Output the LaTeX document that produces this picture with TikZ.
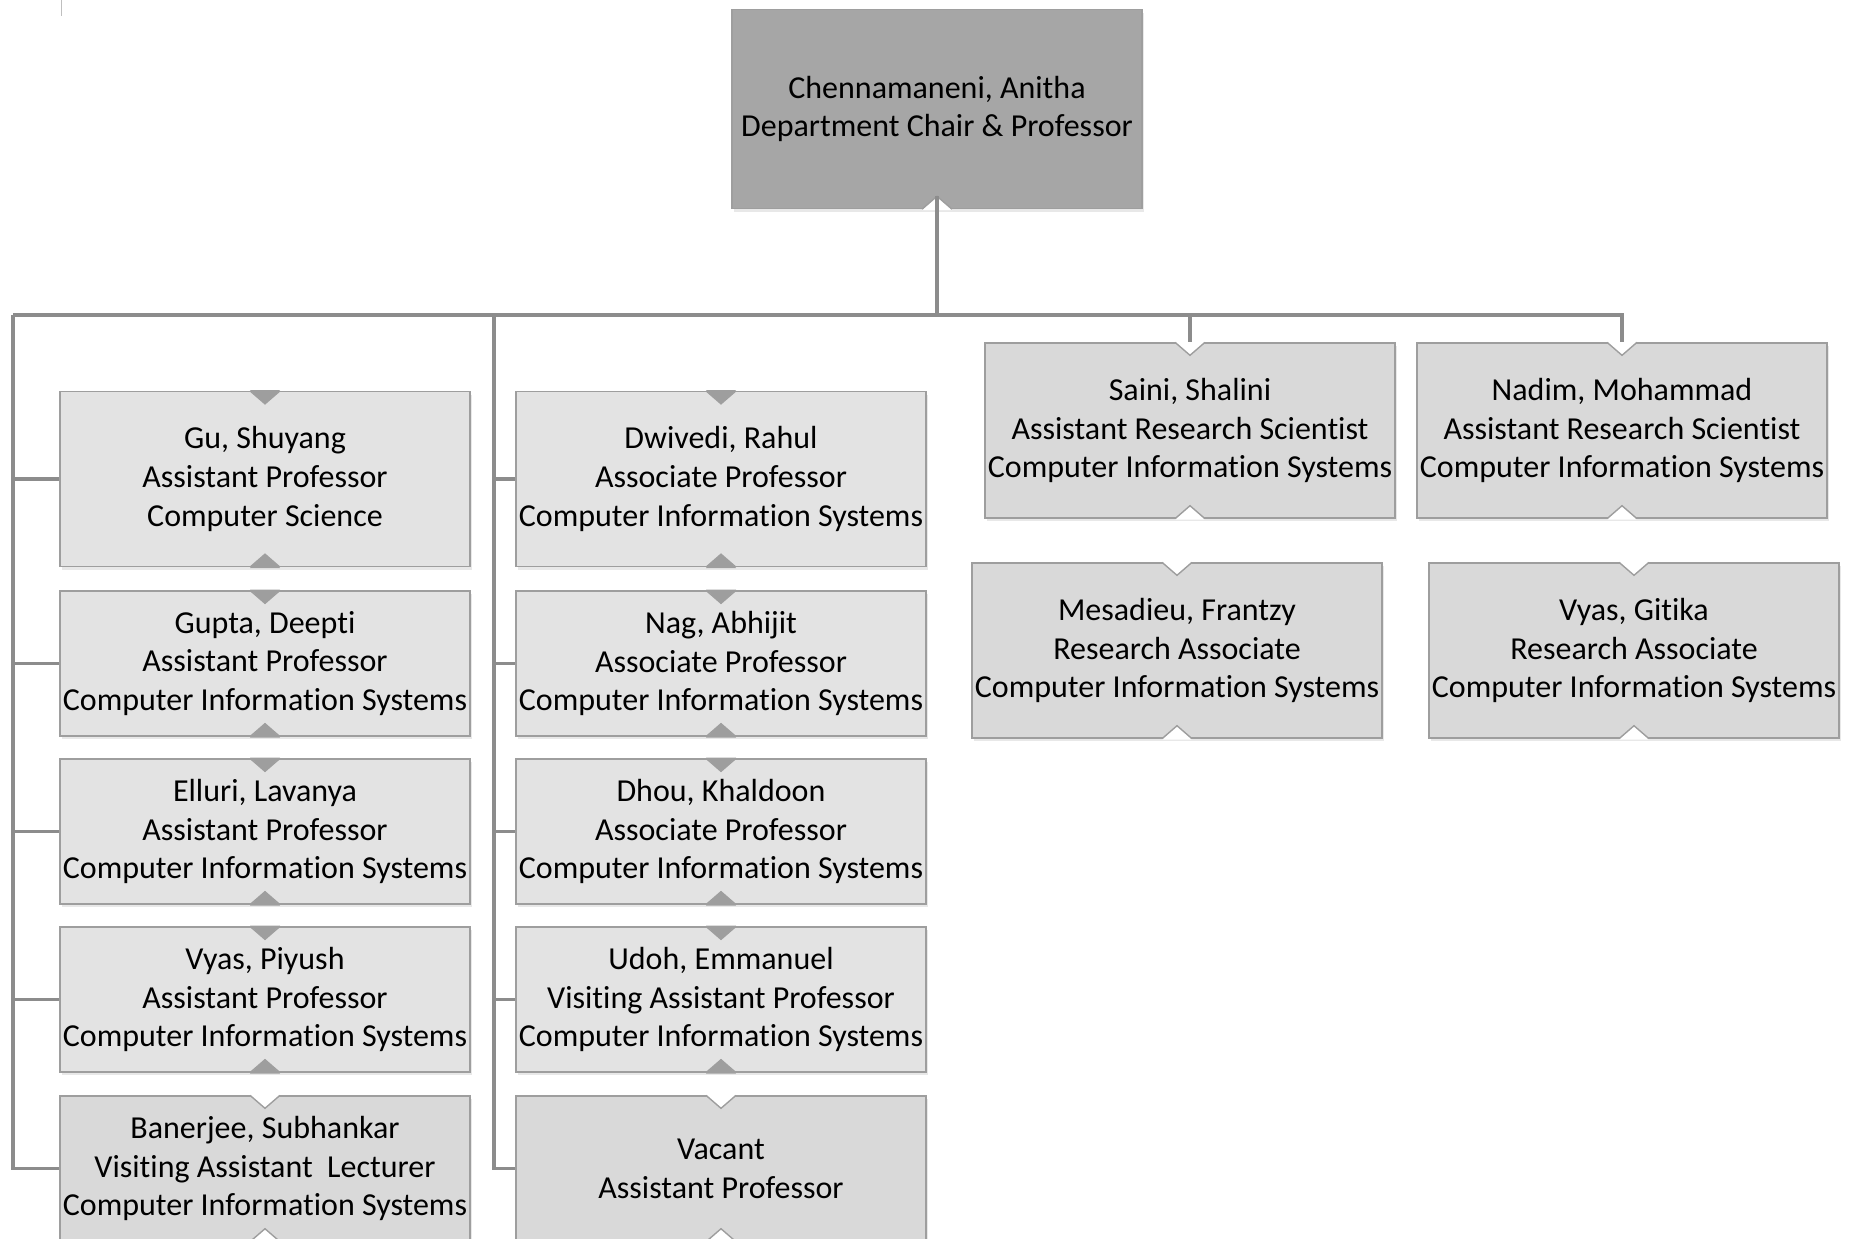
\documentclass[tikz,border=0pt]{standalone}
\usepackage{fontspec}
\setmainfont{Carlito}[Ligatures=NoCommon]
\usetikzlibrary{shadows}
\usepackage{xcolor}

\begin{document}
\begin{tikzpicture}[x=0.5pt, y=-0.5pt,
    staff/.style={draw=black!38, line width=0.7pt, fill=black!11, rectangle, align=center,
      minimum width=205pt, minimum height=72.5pt, inner sep=0pt,
      font=\fontsize{16}{19.4}\selectfont,
      drop shadow={shadow xshift=0.8pt, shadow yshift=-1.5pt, opacity=0.18}},
    staffdark/.style={staff, fill=black!15},
    tallbox/.style={minimum height=87.5pt},
    chair/.style={staff, fill=black!35, minimum height=99.5pt},
    boxline/.style={draw=black!38, line width=0.7pt},
    link/.style={draw=black!45, line width=1.7pt}]
    \useasboundingbox (0,0) rectangle (1858,1238);
    \clip (0,0) rectangle (1858,1238);
    \draw[black!25, line width=0.8pt] (61.5,0) -- (61.5,16);

    % Department chair
    \node[chair] (chair) at (937,109) {Chennamaneni, Anitha\\Department Chair \& Professor};

    % First column
    \node[staff, tallbox] (gu) at (265,479) {Gu, Shuyang\\Assistant Professor\\Computer Science};
    \node[staff] (gupta) at (265,663.5) {Gupta, Deepti\\Assistant Professor\\Computer Information Systems};
    \node[staff] (elluri) at (265,831.5) {Elluri, Lavanya\\Assistant Professor\\Computer Information Systems};
    \node[staff] (vyasp) at (265,999.5) {Vyas, Piyush\\Assistant Professor\\Computer Information Systems};
    \node[staffdark] (banerjee) at (265,1168.5) {Banerjee, Subhankar\\Visiting Assistant\ \ Lecturer\\Computer Information Systems};

    % Second column
    \node[staff, tallbox] (dwivedi) at (721,479) {Dwivedi, Rahul\\Associate Professor\\Computer Information Systems};
    \node[staff] (nag) at (721,663.5) {Nag, Abhijit\\Associate Professor\\Computer Information Systems};
    \node[staff] (dhou) at (721,831.5) {Dhou, Khaldoon\\Associate Professor\\Computer Information Systems};
    \node[staff] (udoh) at (721,999.5) {Udoh, Emmanuel\\Visiting Assistant Professor\\Computer Information Systems};
    \node[staffdark] (vacant) at (721,1168.5) {Vacant\\Assistant Professor};

    % Research staff
    \node[staffdark, tallbox] (saini) at (1190,430.5) {Saini, Shalini\\Assistant Research Scientist\\Computer Information Systems};
    \node[staffdark, tallbox] (nadim) at (1622,430.5) {Nadim, Mohammad\\Assistant Research Scientist\\Computer Information Systems};
    \node[staffdark, tallbox] (mesadieu) at (1177,650.5) {Mesadieu, Frantzy\\Research Associate\\Computer Information Systems};
    \node[staffdark, tallbox] (vyasg) at (1634,650.5) {Vyas, Gitika\\Research Associate\\Computer Information Systems};

    % notches on the box edges
    \foreach \n/\a/\b in {gu/black!38/black!38, gupta/black!38/black!38, elluri/black!38/black!38,
        vyasp/black!38/black!38, banerjee/white/white, dwivedi/black!38/black!38, nag/black!38/black!38,
        dhou/black!38/black!38, udoh/black!38/black!38, vacant/white/white, saini/white/white,
        nadim/white/white, mesadieu/white/white, vyasg/white/white} {
      \fill[\a, shift={(\n.north)}] (-15,-0.8) -- (0,13) -- (15,-0.8) -- cycle;
      \draw[boxline, shift={(\n.north)}] (-15,0) -- (0,13) -- (15,0);
      \fill[\b, shift={(\n.south)}] (-15,0.8) -- (0,-13) -- (15,0.8) -- cycle;
      \draw[boxline, shift={(\n.south)}] (-15,0) -- (0,-13) -- (15,0);
    }
    \fill[white, shift={(chair.south)}] (-15,0.8) -- (0,-13) -- (15,0.8) -- cycle;
    \draw[boxline, shift={(chair.south)}] (-15,0) -- (0,-13) -- (15,0);

    % connectors
    \coordinate (hub) at (937,315);
    \coordinate (busL) at (13,315);
    \coordinate (busM) at (494,315);
    \draw[link] ([yshift=6.5pt]chair.south) -- (hub);
    \draw[link] (busL) -- (hub -| nadim) -- (nadim.north);
    \draw[link] (hub -| saini) -- (saini.north);
    \draw[link] (busL) |- (gu.west);
    \draw[link] (busL) |- (gupta.west);
    \draw[link] (busL) |- (elluri.west);
    \draw[link] (busL) |- (vyasp.west);
    \draw[link] (busL) |- (banerjee.west);
    \draw[link] (busM) |- (dwivedi.west);
    \draw[link] (busM) |- (nag.west);
    \draw[link] (busM) |- (dhou.west);
    \draw[link] (busM) |- (udoh.west);
    \draw[link] (busM) |- (vacant.west);
\end{tikzpicture}
\end{document}
